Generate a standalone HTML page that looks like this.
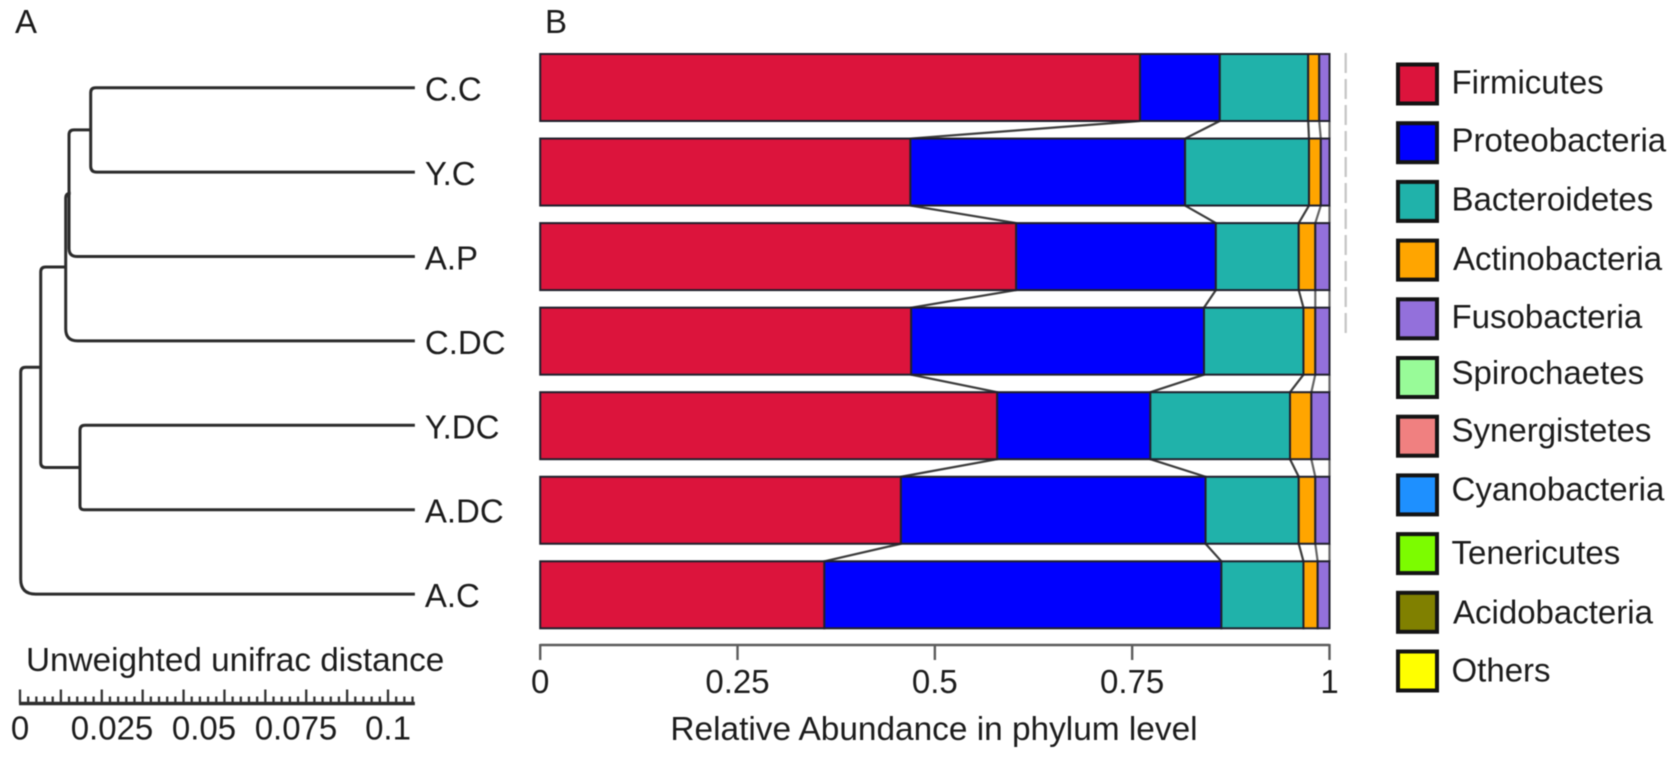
<!DOCTYPE html>
<html lang="en">
<head>
<meta charset="utf-8">
<title>Unweighted UniFrac tree and phylum abundance</title>
<style>
html,body{margin:0;padding:0;background:#fff;width:1678px;height:759px;overflow:hidden}
svg{display:block;filter:blur(0.65px)}
text{font-family:"Liberation Sans",Arial,sans-serif;font-size:33px;fill:#1c1c1c}
</style>
</head>
<body>
<svg id="chart" xmlns="http://www.w3.org/2000/svg" width="1678" height="759" viewBox="0 0 1678 759">
  <rect width="1678" height="759" fill="#fff"/>
  <text x="15" y="33">A</text>
  <text x="545" y="33">B</text>
  <text x="26" y="671" style="font-size:33.3px">Unweighted unifrac distance</text>
  <text x="934" y="740" text-anchor="middle" style="font-size:33.4px">Relative Abundance in phylum level</text>
  <line x1="1345.7" y1="53" x2="1345.7" y2="333" stroke="#c4c4c4" stroke-width="2.2" stroke-dasharray="20 6"/>
  <g id="tree"></g>
  <g id="scale"></g>
  <g id="links"></g>
  <g id="bars"></g>
  <g id="axis"></g>
  <g id="legend"></g>
</svg>
<script>
// ---- Data: stacked bars ----
const categories = ["C.C", "Y.C", "A.P", "C.DC", "Y.DC", "A.DC", "A.C"];
const firmicutes = [0.760, 0.469, 0.603, 0.470, 0.579, 0.457, 0.360];
const proteobacteria = [0.101, 0.348, 0.253, 0.371, 0.194, 0.386, 0.503];
const bacteroidetes = [0.112, 0.157, 0.105, 0.126, 0.177, 0.118, 0.104];
const actinobacteria = [0.014, 0.015, 0.021, 0.015, 0.027, 0.021, 0.018];
const fusobacteria = [0.013, 0.011, 0.018, 0.018, 0.023, 0.018, 0.015];
const xTickValues = [0, 0.25, 0.5, 0.75, 1];
const xTickLabels = ["0", "0.25", "0.5", "0.75", "1"];
const legendLabels = ["Firmicutes", "Proteobacteria", "Bacteroidetes", "Actinobacteria", "Fusobacteria", "Spirochaetes", "Synergistetes", "Cyanobacteria", "Tenericutes", "Acidobacteria", "Others"];
const legendColors = ["#DC143C", "#0000FF", "#20B2AA", "#FFA500", "#9370DB", "#98FB98", "#F08080", "#1E90FF", "#7CFC00", "#808000", "#FFFF00"];

// ---- Data: dendrogram (distance of each merge, children: leaf index or "n"+node index) ----
const mergeDistances = [0.01921, 0.01332, 0.01242, 0.0163, 0.00563, 0.00019];
const mergeChildren = [[0, 1], ["n0", 2], ["n1", 3], [4, 5], ["n2", "n3"], ["n4", 6]];
const leafDistance = 0.1073;
const scaleTickValues = [0, 0.025, 0.05, 0.075, 0.1];
const scaleTickLabels = ["0", "0.025", "0.05", "0.075", "0.1"];

// ---- Axis functions ----
const xBar = v => 540.2 + 789.3 * v;
const yBar = i => 54 + 84.55 * i;
const barHeight = 67;
const xTree = d => 20 + 3680 * d;
const yLeaf = i => 87.7 + 84.4 * i;
const NS = "http://www.w3.org/2000/svg";
function make(tag, attrs, parent, txt) {
  const el = document.createElementNS(NS, tag);
  for (const k in attrs) el.setAttribute(k, attrs[k]);
  if (txt !== undefined) el.textContent = txt;
  parent.appendChild(el);
  return el;
}

// ---- Bars and connectors ----
const barSeries = [firmicutes, proteobacteria, bacteroidetes, actinobacteria, fusobacteria];
const barsG = document.getElementById("bars");
const linksG = document.getElementById("links");
const cumulative = categories.map((c, i) => {
  let t = 0;
  return barSeries.map(s => (t += s[i]));
});
categories.forEach((cat, i) => {
  let start = 0;
  barSeries.forEach((s, j) => {
    const r = make("rect", {
      x: xBar(start), y: yBar(i), width: xBar(start + s[i]) - xBar(start), height: barHeight,
      fill: legendColors[j], stroke: "#20202c", "stroke-width": 2
    }, barsG);
    
    
    start += s[i];
  });
  if (i < categories.length - 1) {
    cumulative[i].forEach((v, j) => {
      const l = make("line", {
        x1: xBar(v), y1: yBar(i) + barHeight, x2: xBar(cumulative[i + 1][j]), y2: yBar(i + 1),
        stroke: j > 2 ? "#666" : "#3c3c3c", "stroke-width": 2.2
      }, linksG);
      
      
    });
  }
});

// ---- X axis ----
const axisG = document.getElementById("axis");
const axisLine = make("line", { x1: xBar(0), y1: 645, x2: xBar(1), y2: 645, stroke: "#5c5c5c", "stroke-width": 2.4 }, axisG);


xTickValues.forEach((v, i) => {
  const t = make("line", { x1: xBar(v), y1: 644, x2: xBar(v), y2: 660, stroke: "#5c5c5c", "stroke-width": 2.4 }, axisG);
  
  
  const lab = make("text", { x: xBar(v), y: 693, "text-anchor": "middle" }, axisG, xTickLabels[i]);
  
  
});

// ---- Legend ----
const legendG = document.getElementById("legend");
const legendTextShift = [28.8, 28.5, 28.8, 29.4, 28.7, 26, 25, 25.3, 29.9, 30.5, 30.2];
legendLabels.forEach((name, i) => {
  const y = 64.5 + 58.7 * i;
  const s = make("rect", { x: 1398, y: y, width: 39, height: 39, fill: legendColors[i], stroke: "#141414", "stroke-width": 4 }, legendG);
  
  
  const lab = make("text", { x: name[0] === "A" ? 1453 : 1451.5, y: y + legendTextShift[i] }, legendG, name);
  
  
});

// ---- Dendrogram ----
const treeG = document.getElementById("tree");
const cornerRadii = [6, 8, 12, 4, 5, 15];
function position(id) {
  if (typeof id === "number") return { x: xTree(leafDistance), y: yLeaf(id) };
  const n = +id.slice(1);
  const a = position(mergeChildren[n][0]);
  const b = position(mergeChildren[n][1]);
  return { x: xTree(mergeDistances[n]), y: (a.y + b.y) / 2 };
}
mergeChildren.forEach((kids, n) => {
  const x = xTree(mergeDistances[n]);
  const a = position(kids[0]);
  const b = position(kids[1]);
  const r1 = 5;
  const r2 = cornerRadii[n];
  const d = "M" + a.x + " " + a.y + "L" + (x + r1) + " " + a.y + "Q" + x + " " + a.y + " " + x + " " + (a.y + r1) +
    "L" + x + " " + (b.y - r2) + "Q" + x + " " + b.y + " " + (x + r2) + " " + b.y + "L" + b.x + " " + b.y;
  const p = make("path", { d: d, fill: "none", stroke: "#2c2c2c", "stroke-width": 3 }, treeG);
  
  
});
categories.forEach((cat, i) => {
  const lab = make("text", { x: xTree(leafDistance) + 10, y: yLeaf(i) + 13 }, treeG, cat);
  
  
});

// ---- Tree scale bar ----
const scaleG = document.getElementById("scale");
const scaleLine = make("line", { x1: 19, y1: 703.5, x2: xTree(leafDistance), y2: 703.5, stroke: "#2c2c2c", "stroke-width": 3.6 }, scaleG);


const minorStep = 0.1 / 45;
for (let k = 0; xTree(k * minorStep) <= 415; k++) {
  const top = k % 5 === 0 ? 689.5 : 696.5;
  const t = make("line", { x1: xTree(k * minorStep), y1: top, x2: xTree(k * minorStep), y2: 703, stroke: "#333", "stroke-width": 2.3 }, scaleG);
  
  
}
scaleTickValues.forEach((v, i) => {
  const lab = make("text", { x: xTree(v), y: 739.5, "text-anchor": "middle" }, scaleG, scaleTickLabels[i]);
  
  
});
</script>
</body>
</html>
